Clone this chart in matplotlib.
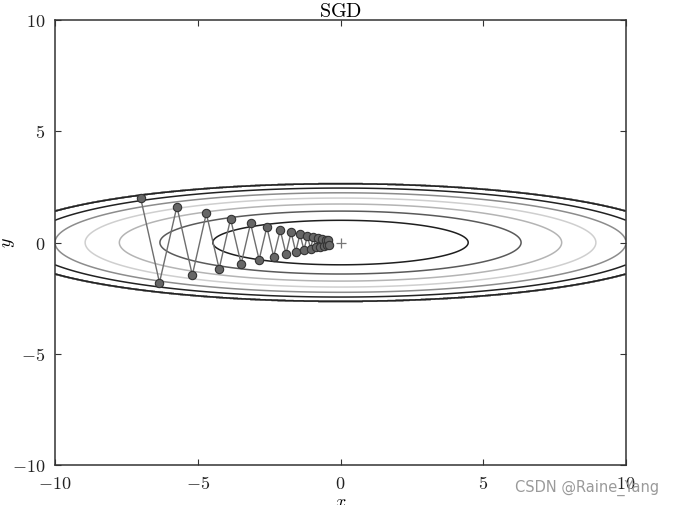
import matplotlib
matplotlib.use("Agg")
import matplotlib.pyplot as plt
import numpy as np
from matplotlib.ticker import FuncFormatter

plt.rcParams['mathtext.fontset'] = 'cm'
plt.rcParams['font.family'] = ['DejaVu Serif']

# SGD trajectory
path_x = [-7.00, -6.34, -5.73, -5.19, -4.70, -4.25, -3.85, -3.48, -3.15, -2.85,
          -2.58, -2.34, -2.11, -1.91, -1.73, -1.57, -1.42, -1.28, -1.16, -1.05,
          -0.95, -0.86, -0.78, -0.71, -0.64, -0.58, -0.52, -0.47, -0.43, -0.39]
path_y = [2.00, -1.80, 1.62, -1.46, 1.31, -1.18, 1.06, -0.96, 0.86, -0.77,
          0.70, -0.63, 0.56, -0.51, 0.46, -0.41, 0.37, -0.33, 0.30, -0.27,
          0.24, -0.22, 0.20, -0.18, 0.16, -0.14, 0.13, -0.12, 0.10, -0.09]

# contour levels of f(x, y) = x^2/20 + y^2 and their grey shades
levels = [1, 2, 3, 4, 5, 6]
level_colors = ['#1e1e1e', '#5a5a5a', '#b4b4b4', '#cfcfcf', '#8c8c8c', '#222222']
ticks = [-10, -5, 0, 5, 10]


def f(x, y):
    return x ** 2 / 20.0 + y ** 2


gx = np.arange(-10, 10, 0.01)
gy = np.arange(-5, 5, 0.01)
X, Y = np.meshgrid(gx, gy)
Z = f(X, Y)
Z[Z > 7] = 0

fig = plt.figure(figsize=(6.73, 5.05), dpi=100)
ax = fig.add_axes([0.0817, 0.0792, 0.8485, 0.881])

ax.contour(X, Y, Z, levels=levels, colors=level_colors, linewidths=1.1)
ax.plot(path_x, path_y, '-', color='#6e6e6e', lw=1.0, zorder=3)
ax.plot(path_x, path_y, 'o', markersize=6, markerfacecolor='#666666',
        markeredgecolor='#333333', markeredgewidth=0.8, zorder=4)
ax.plot(0, 0, '+', color='#777777', markersize=7, markeredgewidth=0.9, zorder=4)

ax.set_xlim(-10, 10)
ax.set_ylim(-10, 10)
ax.set_xticks(ticks)
ax.set_yticks(ticks)
fmt = FuncFormatter(lambda v, p: f'${v:g}$')
ax.xaxis.set_major_formatter(fmt)
ax.yaxis.set_major_formatter(fmt)
ax.tick_params(direction='in', length=4, width=0.8, color='#333333',
               labelsize=13, labelcolor='#222222', top=True, right=True, pad=7)
for sp in ax.spines.values():
    sp.set_color('#333333')
    sp.set_linewidth(1.1)

ax.set_title(r'$\mathrm{SGD}$', fontsize=14.5, pad=2)
ax.set_xlabel('$x$', fontsize=13, labelpad=0)
ax.set_ylabel('$y$', fontsize=13, labelpad=-4)

fig.text(0.765, 0.027, 'CSDN @Raine_Yang', fontsize=10.5, color='#9a9a9a',
         family='DejaVu Sans')

plt.savefig('out.png', dpi=100)
